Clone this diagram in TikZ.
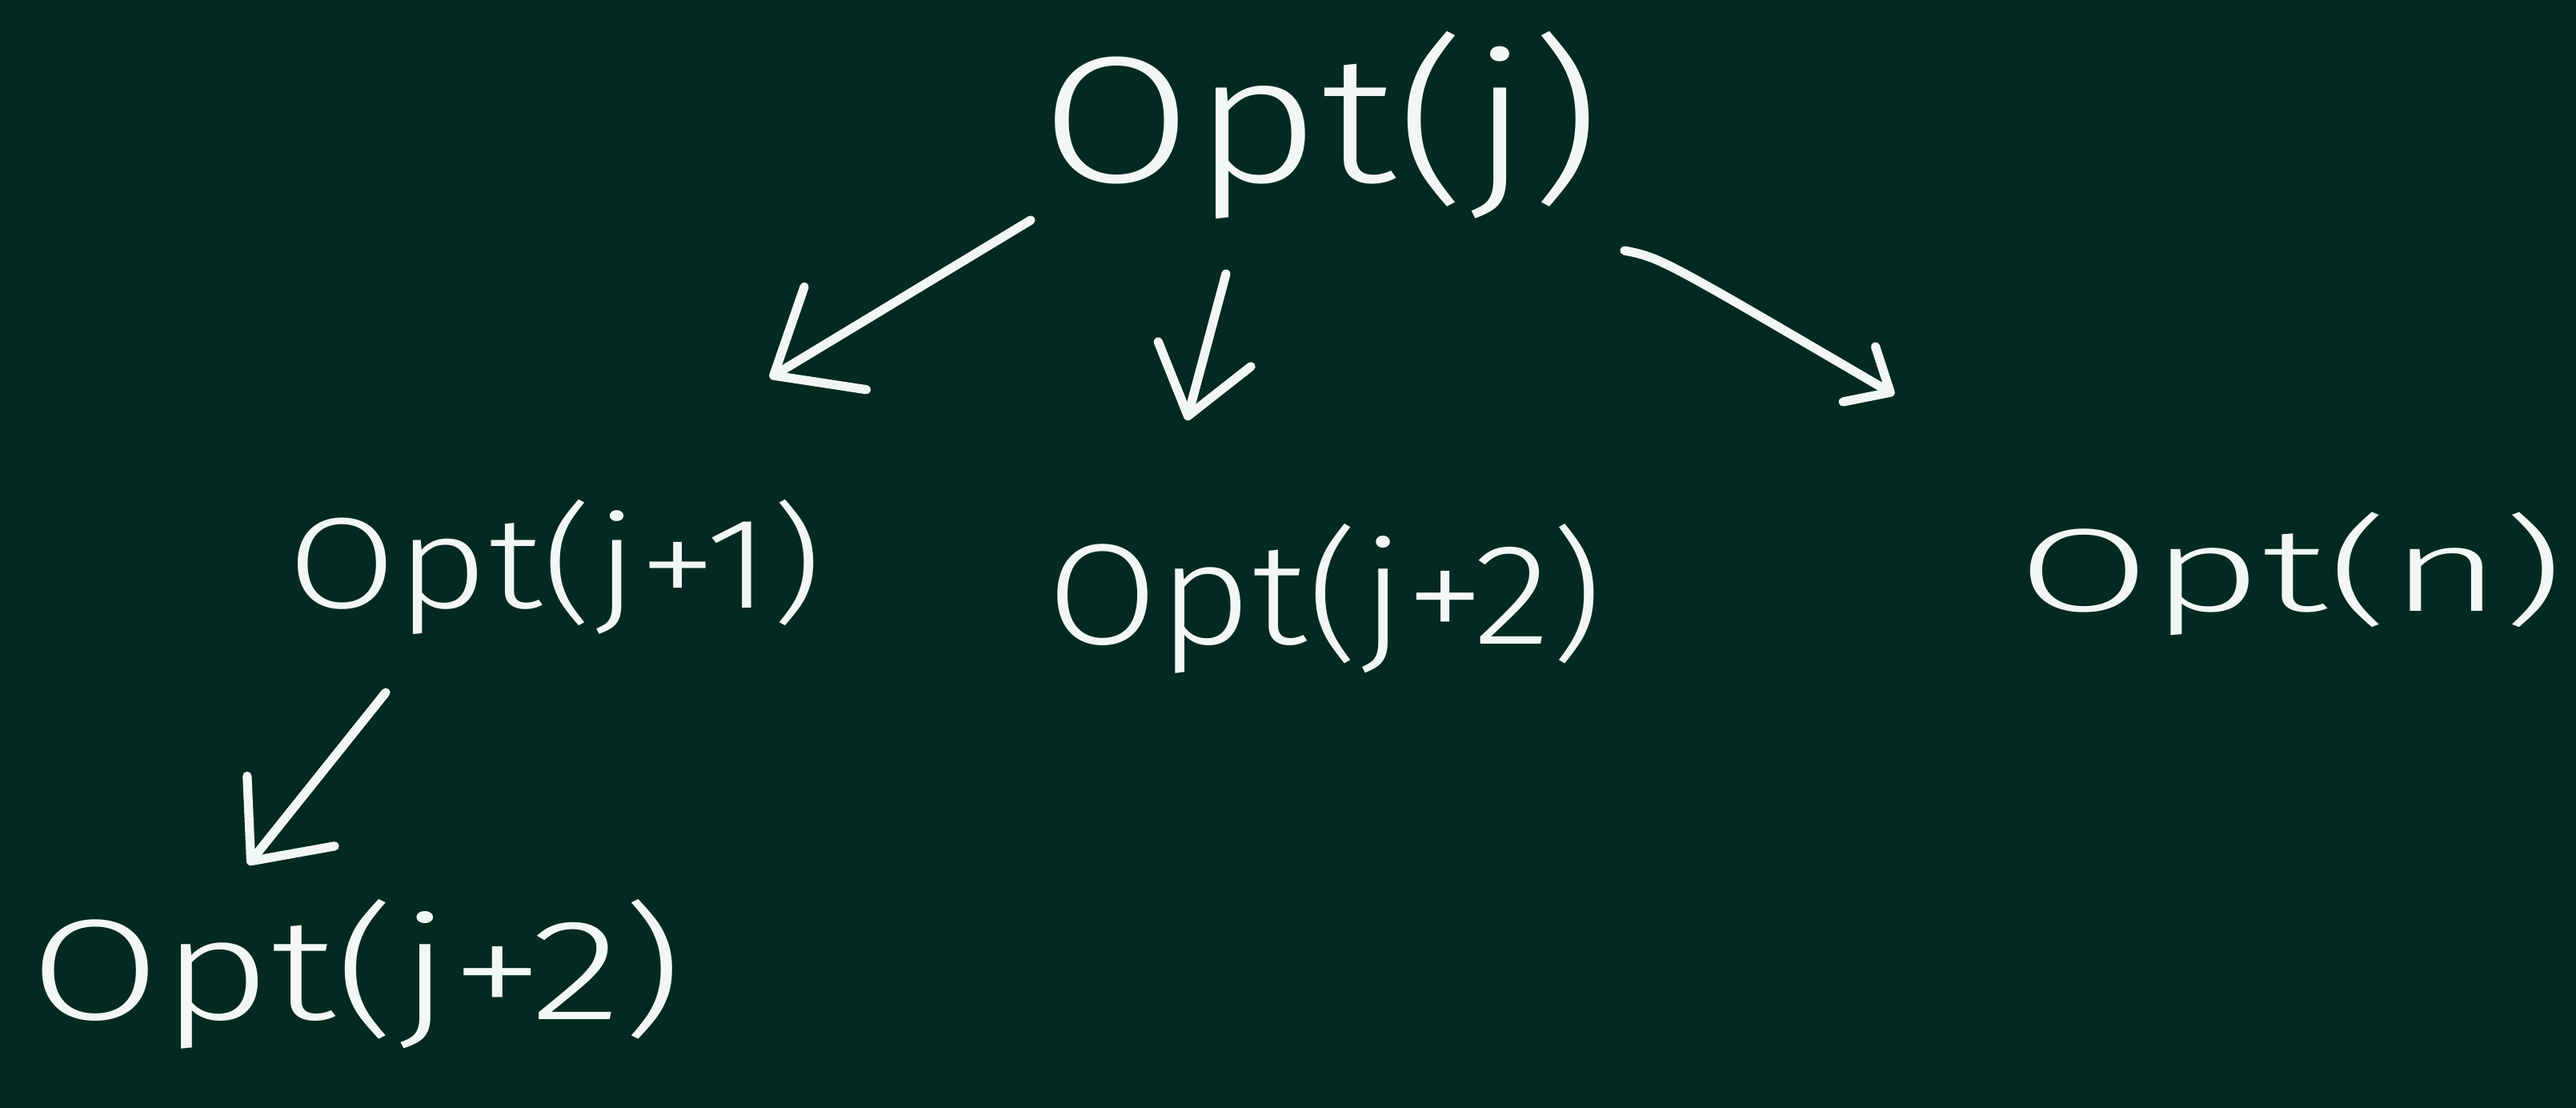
\documentclass[tikz,border=0pt]{standalone}
\usepackage{fontspec}
\setmainfont{Fira Sans Light}
\usetikzlibrary{arrows.meta}
\definecolor{board}{HTML}{032A21}
\definecolor{chalk}{HTML}{F2F7F4}
\begin{document}
\begin{tikzpicture}[x=1cm,y=-1cm,
  lbl/.style={anchor=base west, inner sep=0pt, text=chalk},
  conn/.style={draw=chalk, line width=3.2pt, line cap=round, line join=round}]
\useasboundingbox[fill=board] (0,0) rectangle (32.19,13.84);
% labels
\node[lbl] (root)  at (13.00,2.28)  {\resizebox{7.0cm}{\height}{\fontsize{64}{70}\selectfont Opt(j)}};
\node[lbl] (left)  at (3.59,7.60)   {\resizebox{6.67cm}{\height}{\fontsize{46}{50}\selectfont Opt(j+1)}};
\node[lbl] (mid)   at (13.08,8.05)  {\resizebox{6.94cm}{\height}{\fontsize{51}{56}\selectfont Opt(j+2)}};
\node[lbl] (right) at (25.21,7.64)  {\resizebox{6.82cm}{\height}{\fontsize{42}{46}\selectfont Opt(n)}};
\node[lbl] (leaf)  at (0.37,12.73)  {\resizebox{8.15cm}{\height}{\fontsize{51}{56}\selectfont Opt(j+2)}};
% connector end points
\coordinate (a1s) at (12.88,2.75);
\coordinate (a1e) at (9.62,4.72);
\coordinate (a2s) at (15.32,3.42);
\coordinate (a2e) at (14.83,5.25);
\coordinate (a3s) at (20.30,3.13);
\coordinate (a3c) at (20.75,3.22);
\coordinate (a3e) at (23.67,4.93);
\coordinate (a4s) at (4.82,8.65);
\coordinate (a4e) at (3.10,10.80);
% connectors
\draw[conn, -{Straight Barb[length=9mm,width=15mm,round]}] (a1s) -- (a1e);
\draw[conn, -{Straight Barb[length=8mm,width=12mm,round]}] (a2s) -- (a2e);
\draw[conn, -{Straight Barb[length=4.5mm,width=8mm,round]}] (a3s) .. controls (a3c) .. (a3e);
\draw[conn, -{Straight Barb[length=8mm,width=14mm,round]}] (a4s) -- (a4e);
\end{tikzpicture}
\end{document}
